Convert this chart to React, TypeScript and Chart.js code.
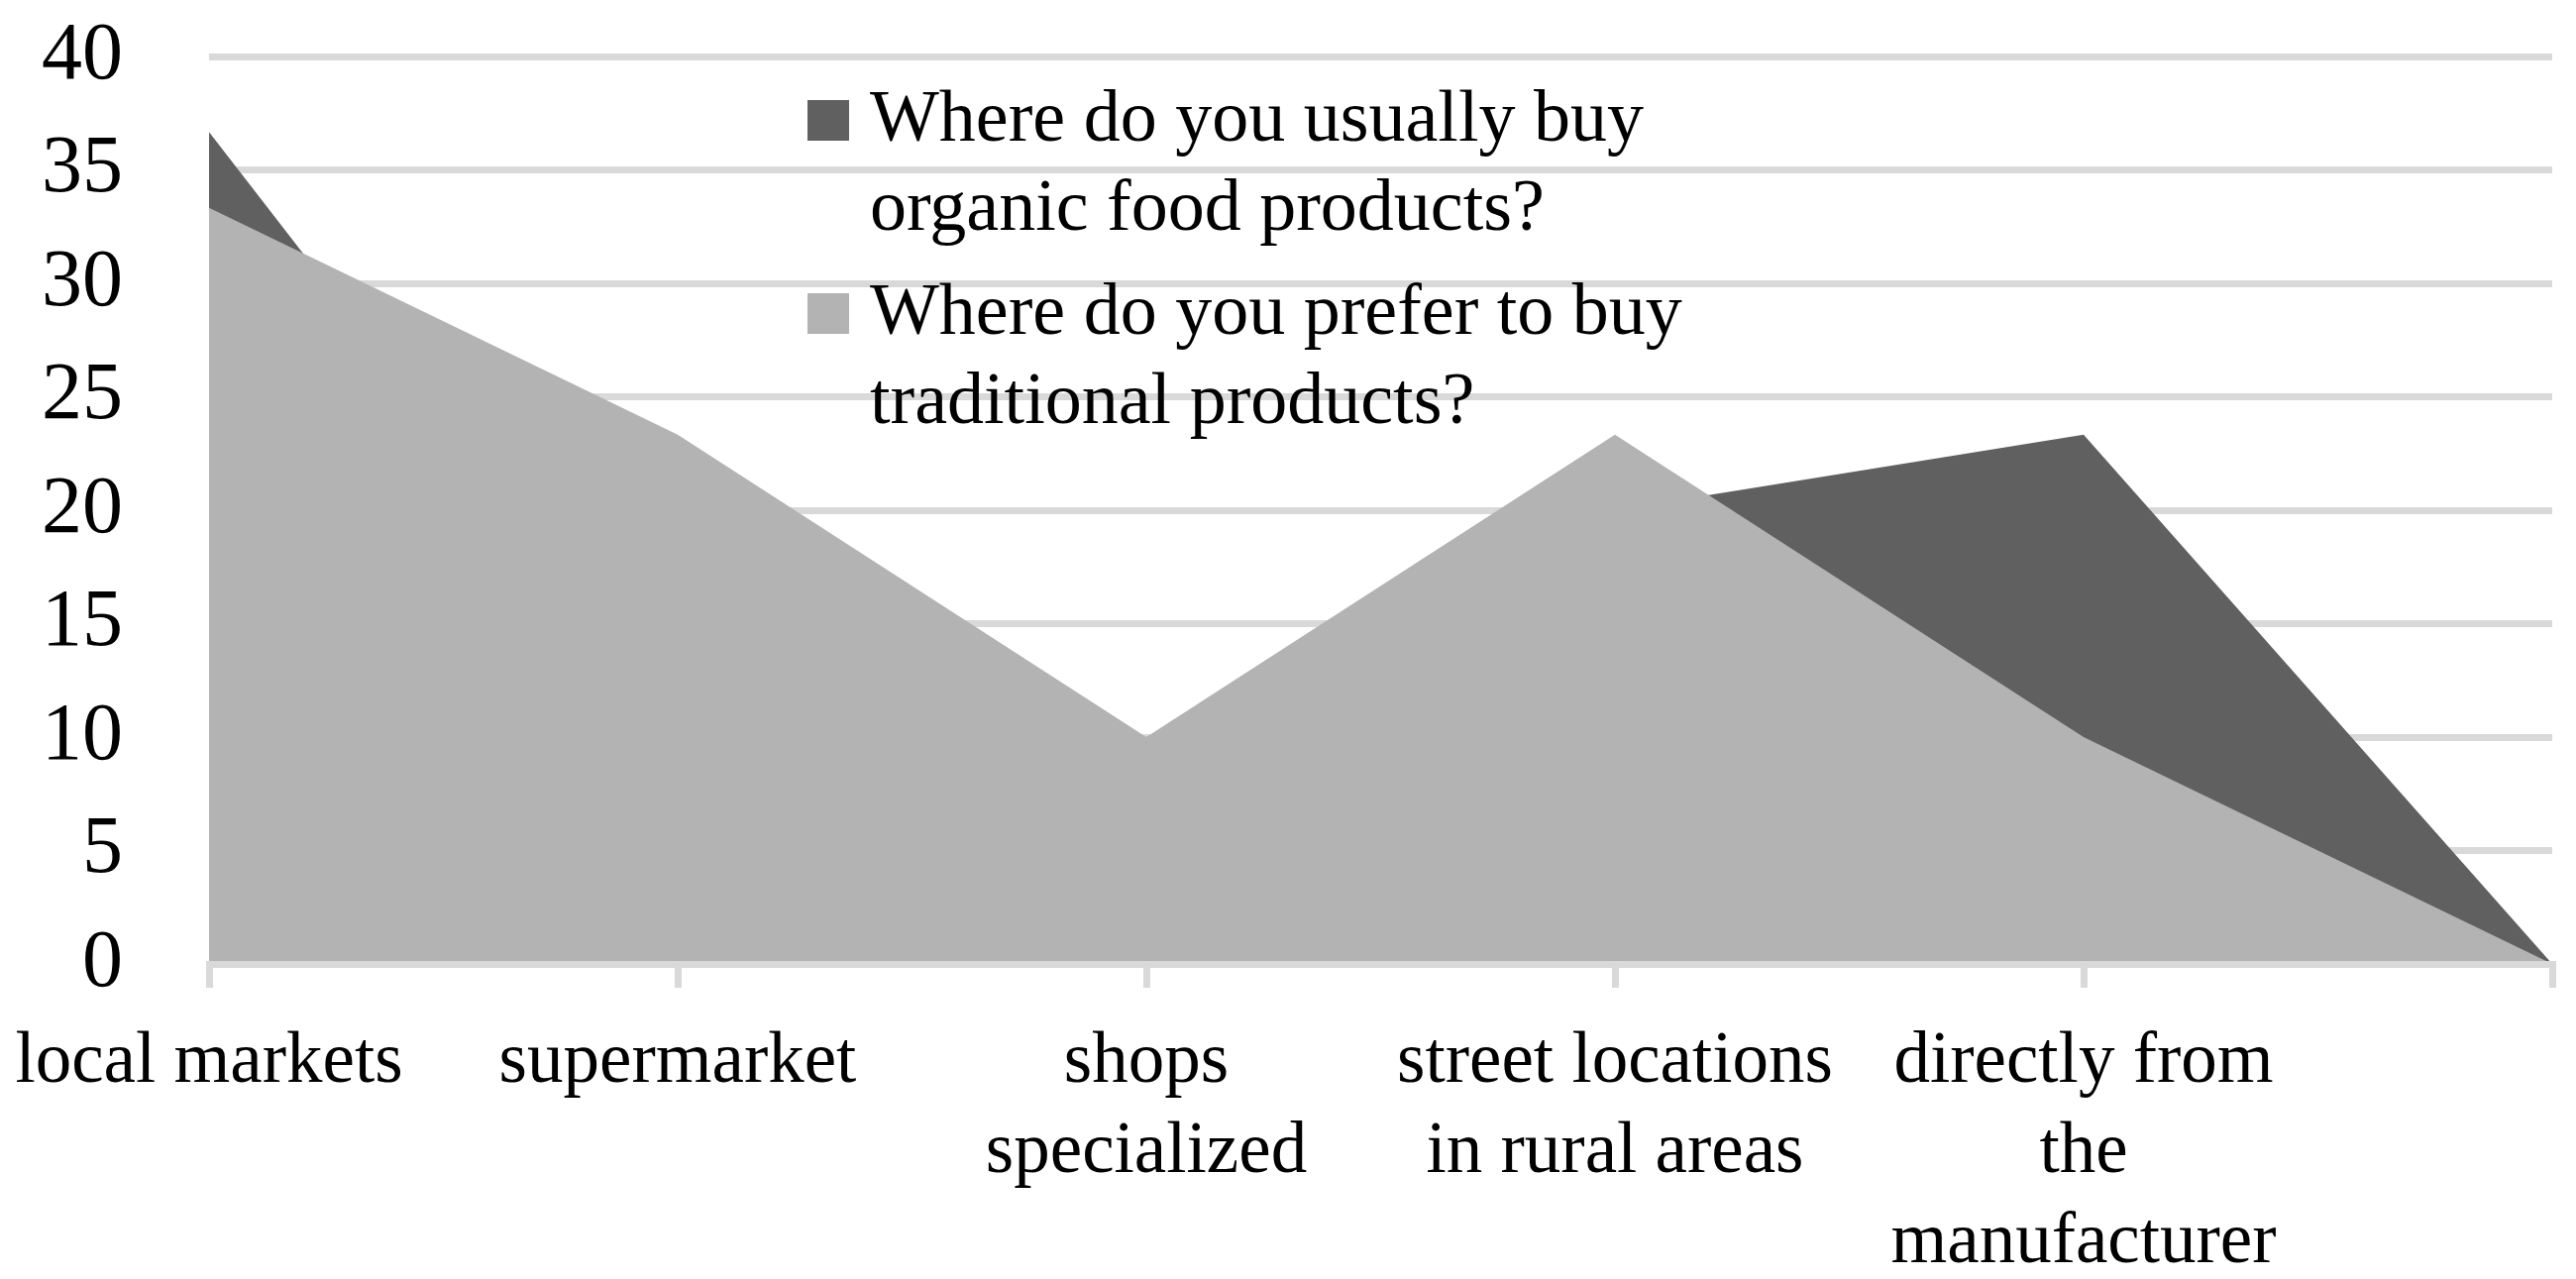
import { useEffect, useRef } from "react";
import { Chart, registerables } from "chart.js";

Chart.register(...registerables);

// categories (last one is the blank end point of the area)
const categories = [
  ["local markets"],
  ["supermarket"],
  ["shops", "specialized"],
  ["street locations", "in rural areas"],
  ["directly from", "the", "manufacturer"],
  [""],
];

const organicLabel = ["Where do you usually buy", "organic food products?"];
const traditionalLabel = ["Where do you prefer to buy", "traditional products?"];

const organicValues = [36.67, 10, 10, 20, 23.33, 0];
const traditionalValues = [33.33, 23.33, 10, 23.33, 10, 0];

const yTickValues = [0, 5, 10, 15, 20, 25, 30, 35, 40];

const DARK = "#606060";
const LIGHT = "#b3b3b3";
const GRID = "#d9d9d9";
const FONT = "'Liberation Serif', 'Times New Roman', serif";

// legend drawn inside the plot area, top middle
const legendPlugin = {
  id: "insideLegend",
  afterDatasetsDraw(chart: Chart) {
    const ctx = chart.ctx;
    const boxX = 815;
    const textX = 878;
    const lineGap = 90;
    const boxSize = 42;
    const entries = [
      { lines: organicLabel, color: DARK, baseline: 142 },
      { lines: traditionalLabel, color: LIGHT, baseline: 337 },
    ];
    ctx.save();
    ctx.font = `74px ${FONT}`;
    ctx.textAlign = "left";
    ctx.textBaseline = "alphabetic";
    entries.forEach((e) => {
      ctx.fillStyle = e.color;
      ctx.fillRect(boxX, e.baseline - boxSize + 1, boxSize, boxSize - 1);
      ctx.fillStyle = "#000";
      e.lines.forEach((line, i) => {
        ctx.fillText(line, textX, e.baseline + i * lineGap);
      });
    });
    ctx.restore();
  },
};

export default function App() {
  const canvasRef = useRef<HTMLCanvasElement>(null);
  const chartRef = useRef<Chart | null>(null);

  useEffect(() => {
    document.body.style.margin = "0";
    if (!canvasRef.current) return;
    if (chartRef.current) chartRef.current.destroy();

    chartRef.current = new Chart(canvasRef.current, {
      type: "line",
      data: {
        labels: categories,
        datasets: [
          {
            label: organicLabel.join(" "),
            data: organicValues,
            backgroundColor: DARK,
            borderWidth: 0,
            pointRadius: 0,
            fill: "origin",
            tension: 0,
            order: 1,
          },
          {
            label: traditionalLabel.join(" "),
            data: traditionalValues,
            backgroundColor: LIGHT,
            borderWidth: 0,
            pointRadius: 0,
            fill: "origin",
            tension: 0,
            order: 0,
          },
        ],
      },
      options: {
        animation: false,
        responsive: true,
        maintainAspectRatio: false,
        devicePixelRatio: 1,
        layout: { padding: { top: 57, right: 24, left: 0, bottom: 0 } },
        plugins: {
          legend: { display: false },
          tooltip: { enabled: false },
        },
        scales: {
          x: {
            offset: false,
            grid: {
              drawOnChartArea: false,
              drawTicks: true,
              tickLength: 24,
              color: GRID,
              lineWidth: 7,
            },
            border: { display: true, color: GRID, width: 7, z: 1 },
            ticks: {
              color: "#000",
              padding: 30,
              maxRotation: 0,
              autoSkip: false,
              font: { family: FONT, size: 73, lineHeight: 1.25 },
            },
            afterFit: (scale: any) => {
              scale.height = 318;
              scale.paddingLeft = 0;
              scale.paddingRight = 0;
            },
          },
          y: {
            min: 0,
            max: 40,
            afterBuildTicks: (scale: any) => {
              scale.ticks = yTickValues.map((v) => ({ value: v }));
            },
            grid: {
              drawTicks: false,
              color: GRID,
              lineWidth: 7,
            },
            border: { display: false },
            ticks: {
              color: "#000",
              padding: 87,
              font: { family: FONT, size: 82 },
            },
            afterFit: (scale: any) => {
              scale.width = 211;
              scale.paddingTop = 0;
              scale.paddingBottom = 0;
            },
          },
        },
      },
      plugins: [legendPlugin],
    });

    return () => {
      if (chartRef.current) {
        chartRef.current.destroy();
        chartRef.current = null;
      }
    };
  }, []);

  return (
    <div style={{ width: 2600, height: 1291, position: "relative", background: "#fff" }}>
      <canvas ref={canvasRef}></canvas>
    </div>
  );
}
